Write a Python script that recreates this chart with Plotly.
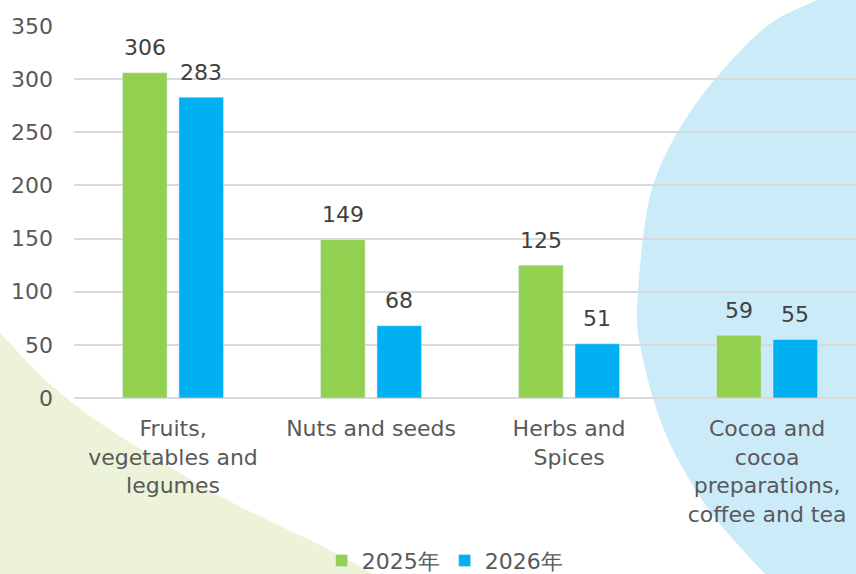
import plotly.graph_objects as go

# ---------------- data ----------------
categories = ["Fruits, vegetables and legumes", "Nuts and seeds", "Herbs and Spices",
              "Cocoa and cocoa preparations, coffee and tea"]
tick_labels = ["Fruits,<br>vegetables and<br>legumes", "Nuts and seeds", "Herbs and<br>Spices",
               "Cocoa and<br>cocoa<br>preparations,<br>coffee and tea"]
series_names = ["2025年", "2026年"]
values_2025 = [306, 149, 125, 59]
values_2026 = [283, 68, 51, 55]
y_ticks = [0, 50, 100, 150, 200, 250, 300, 350]

# ---------------- styling ----------------
W, H = 856, 574
ML, MR, MT, MB = 74, 0, 26, 176
PW, PH = W - ML - MR, H - MT - MB
FONT = "DejaVu Sans"
FS = 22
TXT = "#595959"
GREEN, BLUE = "#92D050", "#00B0F0"


def px2paper(X, Y):
    return (X - ML) / PW, (H - MB - Y) / PH


def smooth_path(pts, closing):
    """Catmull-Rom spline through pixel points -> SVG path in paper coords."""
    P = [px2paper(*p) for p in pts]
    d = "M %.5f,%.5f" % P[0]
    for i in range(len(P) - 1):
        p0 = P[i - 1] if i > 0 else P[i]
        p1, p2 = P[i], P[i + 1]
        p3 = P[i + 2] if i + 2 < len(P) else P[i + 1]
        c1 = (p1[0] + (p2[0] - p0[0]) / 6, p1[1] + (p2[1] - p0[1]) / 6)
        c2 = (p2[0] - (p3[0] - p1[0]) / 6, p2[1] - (p3[1] - p1[1]) / 6)
        d += " C %.5f,%.5f %.5f,%.5f %.5f,%.5f" % (c1 + c2 + p2)
    for c in closing:
        d += " L %.5f,%.5f" % px2paper(*c)
    return d + " Z"


blue_edge = [(846, -15), (817, 0), (767, 26), (715, 79), (677, 133), (653, 185), (643, 238),
             (638, 292), (637, 320), (640, 345), (653, 398), (673, 450), (707, 507),
             (740, 547), (765, 574), (790, 600)]
green_edge = [(-20, 312), (0, 333), (50, 384), (100, 423), (167, 465), (227, 500),
              (320, 545), (373, 574), (420, 600)]

fig = go.Figure()
fig.add_trace(go.Bar(x=categories, y=values_2025, name=series_names[0], marker_color=GREEN))
fig.add_trace(go.Bar(x=categories, y=values_2026, name=series_names[1], marker_color=BLUE))

BARGAP, GROUPGAP = 0.43, 0.21
cat_px = PW / 3.949
slot = cat_px * (1 - BARGAP) / 2
for k, vals in enumerate([values_2025, values_2026]):
    for c, v in zip(categories, vals):
        fig.add_annotation(x=c, y=v, xref="x", yref="y", text=str(v), showarrow=False,
                           xshift=(k - 0.5) * slot, yshift=25, yanchor="middle",
                           font=dict(family=FONT, size=FS, color="#404040"))

fig.update_layout(
    width=W, height=H,
    margin=dict(l=ML, r=MR, t=MT, b=MB, pad=0, autoexpand=False),
    paper_bgcolor="white", plot_bgcolor="rgba(0,0,0,0)",
    barmode="group", bargap=BARGAP, bargroupgap=GROUPGAP,
    font=dict(family=FONT, size=FS, color=TXT),
    shapes=[
        dict(type="path", xref="paper", yref="paper", layer="below",
             path=smooth_path(blue_edge, [(900, 600), (900, -15)]),
             fillcolor="#CCEBF9", line=dict(width=0)),
        dict(type="path", xref="paper", yref="paper", layer="below",
             path=smooth_path(green_edge, [(-20, 600)]),
             fillcolor="#EDF3D9", line=dict(width=0)),
    ],
    legend=dict(orientation="h", x=0.474, xanchor="center", y=-0.381, yanchor="top",
                font=dict(family=FONT, size=FS, color=TXT), bgcolor="rgba(0,0,0,0)"),
    showlegend=True,
)
fig.update_xaxes(range=[-0.5, 3.449], tickvals=categories, ticktext=tick_labels,
                 showgrid=False, zeroline=False, showline=False, ticks="",
                 tickfont=dict(family=FONT, size=FS, color=TXT), ticklabelstandoff=15,
                 tickangle=0, fixedrange=True, automargin=False)
fig.update_yaxes(range=[0, 350], tickvals=y_ticks, showgrid=True, gridcolor="#D9D9D9",
                 gridwidth=1.5, zeroline=True, zerolinecolor="#D9D9D9", zerolinewidth=1.5,
                 showline=False, ticks="", tickfont=dict(family=FONT, size=FS, color=TXT),
                 ticklabelstandoff=20, fixedrange=True, automargin=False)

fig.write_html("out.html", config={"displayModeBar": False},
               post_script="document.body.style.margin='0px';document.body.style.overflow='hidden';")
